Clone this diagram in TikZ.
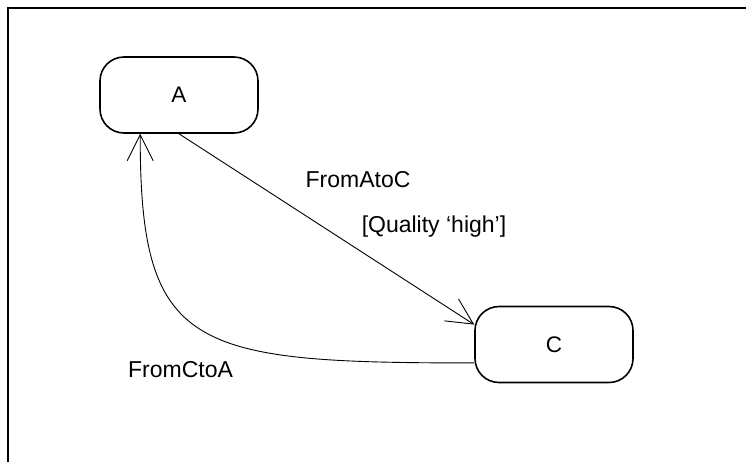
\documentclass[tikz,border=0pt]{standalone}
\usepackage{fontspec}
\setmainfont{Liberation Sans}
\usetikzlibrary{arrows.meta}
\begin{document}
\begin{tikzpicture}[x=1pt,y=-1pt,
  state/.style={draw,line width=1.6pt,rounded corners=24pt,minimum width=158pt,minimum height=76pt,inner sep=0pt,font=\fontsize{22.5}{26}\selectfont},
  lbl/.style={inner sep=0pt,anchor=base,font=\fontsize{23}{27}\selectfont},
  trans/.style={line width=0.9pt,-{Straight Barb[length=26pt,width=26pt]}}]
\useasboundingbox (0,0) rectangle (746,461);
\draw[line width=2pt] (8,470) -- (8,8) -- (760,8);
\node[state] (A) at (179,95) {A};
\node[state] (C) at (554,344.5) {C};
\draw[trans] (A.south) -- (C.166);
\draw[trans] (C.193) .. controls (190,363) and (140,350) .. (A.225);
\node[lbl] (l1) at (358,187) {FromAtoC};
\node[lbl] (l2) at (434,232) {[Quality ‘high’]};
\node[lbl] (l3) at (180.5,377) {FromCtoA};
\end{tikzpicture}
\end{document}
